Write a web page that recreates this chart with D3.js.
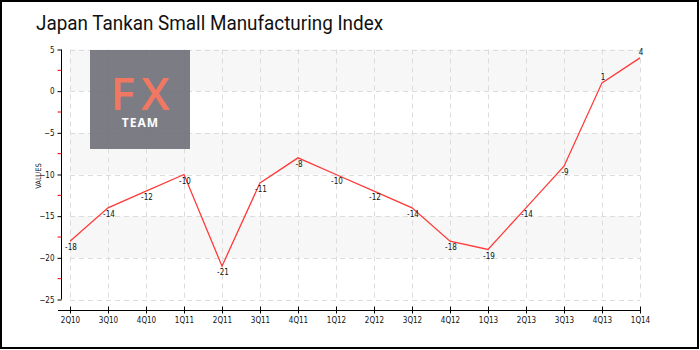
<!DOCTYPE html>
<html><head><meta charset="utf-8">
<script src="https://cdn.jsdelivr.net/npm/d3@7"></script>
<style>body{margin:0;background:#fff}svg{display:block}</style>
</head><body><svg id="c" width="700" height="350"></svg>
<script>
const categories = ["2Q10","3Q10","4Q10","1Q11","2Q11","3Q11","4Q11","1Q12","2Q12","3Q12","4Q12","1Q13","2Q13","3Q13","4Q13","1Q14"];
const values = [-18,-14,-12,-10,-21,-11,-8,-10,-12,-14,-18,-19,-14,-9,1,4];
const yTicks = [5,0,-5,-10,-15,-20,-25];
const yMinorTicks = [2.5,-2.5,-7.5,-12.5,-17.5,-22.5];
const title = "Japan Tankan Small Manufacturing Index";

const svg = d3.select("#c");
const font = "'DejaVu Sans Condensed','DejaVu Sans',sans-serif";
svg.append("rect").attr("x",1).attr("y",1).attr("width",697).attr("height",347)
  .attr("fill","#fff").attr("stroke","#000").attr("stroke-width",2);

svg.append("text").attr("x",36).attr("y",30).text(title)
  .attr("font-family","Roboto, sans-serif").attr("font-weight",400).attr("font-size",21)
  .attr("textLength",347).attr("lengthAdjust","spacingAndGlyphs").attr("fill","#111");

const x = d3.scalePoint().domain(categories).range([70,640]);
const y = d3.scaleLinear().domain([-25,5]).range([299.5,49.5]);

// bands
const bands = [[0,5],[-10,-5],[-20,-15]];
svg.append("g").selectAll("rect").data(bands).join("rect")
  .attr("x",70).attr("width",570)
  .attr("y",d=>y(d[1])).attr("height",d=>y(d[0])-y(d[1]))
  .attr("fill","#f7f7f7");

// grid
const grid = svg.append("g").attr("stroke","#dcdcdc").attr("stroke-dasharray","5,4").attr("stroke-width",1);
grid.selectAll(".h").data(yTicks).join("line").attr("class","h")
  .attr("x1",70).attr("x2",640).attr("y1",d=>Math.round(y(d))+0.5).attr("y2",d=>Math.round(y(d))+0.5);
grid.selectAll(".v").data(categories).join("line").attr("class","v")
  .attr("x1",d=>Math.round(x(d))+0.5).attr("x2",d=>Math.round(x(d))+0.5).attr("y1",y(5)).attr("y2",y(-25));

// logo
const logo = svg.append("g");
logo.append("rect").attr("x",90).attr("y",50).attr("width",100).attr("height",99).attr("fill","#6e6e78").attr("opacity",0.9);
logo.append("text").attr("x",143).attr("y",110).attr("text-anchor","middle").text("FX")
  .attr("font-family","'Open Sans',sans-serif").attr("font-weight",600).attr("font-size",46).attr("fill","#f07862").attr("letter-spacing",6);
logo.append("text").attr("x",140.5).attr("y",126.5).attr("text-anchor","middle").text("TEAM")
  .attr("font-family","'Open Sans',sans-serif").attr("font-weight",700).attr("font-size",12).attr("fill","#fff").attr("letter-spacing",1);

// y axis
const ya = svg.append("g").attr("transform","translate(61.5,0)");
ya.call(d3.axisLeft(y).tickValues(yTicks).tickSize(4).tickPadding(3).tickFormat(d3.format("d")));
ya.select(".domain").attr("stroke","#000").attr("d","M0,"+y(5)+"V"+y(-25));
ya.selectAll("text").attr("font-family",font).attr("font-size",8).attr("fill","#111");
ya.selectAll(".minor").data(yMinorTicks).join("line").attr("class","minor")
  .attr("x1",-4).attr("x2",0).attr("y1",d=>y(d)).attr("y2",d=>y(d)).attr("stroke","#e00");
svg.append("text").attr("transform","translate(41,176) rotate(-90)").attr("text-anchor","middle")
  .text("VALUES").attr("font-family",font).attr("font-size",7.5).attr("fill","#111");

// x axis
const xa = svg.append("g").attr("transform","translate(0,310.5)");
xa.call(d3.axisBottom(x).tickSizeInner(3).tickSizeOuter(0).tickPadding(4));
xa.select(".domain").attr("d","M58,0H641").attr("stroke","#000");
xa.selectAll(".tick line").attr("y1",-4).attr("y2",3).attr("stroke","#000");
xa.selectAll("text").attr("font-family",font).attr("font-size",8).attr("fill","#111");

// line
const pts = categories.map((c,i)=>({c,v:values[i]}));
svg.append("path").datum(pts).attr("fill","none").attr("stroke","#ff3a3a").attr("stroke-width",1.3)
  .attr("d",d3.line().x(d=>x(d.c)).y(d=>y(d.v)));
svg.append("g").selectAll("text").data(pts).join("text")
  .attr("x",d=>x(d.c)+1).attr("y",d=>d.v>=0 ? y(d.v)-3 : y(d.v)+9)
  .attr("text-anchor","middle").text(d=>d.v)
  .attr("font-family",font).attr("font-size",8).attr("fill","#111");
</script></body></html>
